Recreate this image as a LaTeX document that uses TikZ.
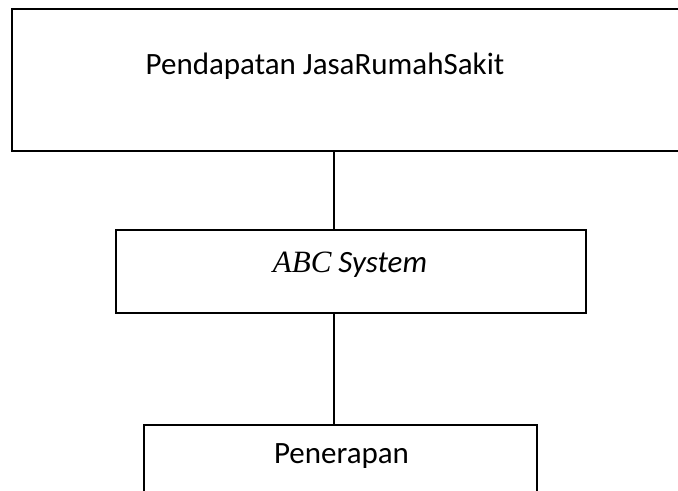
\documentclass[tikz,border=0pt]{standalone}
\usepackage{fontspec}
\setmainfont{Carlito}
\newfontfamily\timesfont{Liberation Serif}
\usetikzlibrary{positioning}

\tikzset{
    box/.style={draw,line width=0.9pt,inner sep=0pt},
    boxtext/.style={inner sep=0pt,anchor=base,font=\fontsize{15.5}{18}\selectfont},
    conn/.style={line width=0.9pt}
}

\begin{document}
\begin{tikzpicture}[x=0.5pt,y=-0.5pt]
        %fix the page size, the top and bottom boxes run off it
        \useasboundingbox (0,0) rectangle (678,491);
        \clip (0,0) rectangle (678,491);

        %draw the three boxes
        \node[box,minimum width=344pt,minimum height=71pt] (pendapatan) at (356,80) {};
        \node[box,minimum width=235pt,minimum height=41.5pt] (abc) at (351,271.5) {};
        \node[box,minimum width=196.5pt,minimum height=47.5pt] (penerapan) at (340.5,472.5) {};

        %texts of the boxes
        \node[boxtext] (pendapatantext) at (325,75) {Pendapatan JasaRumahSakit};
        \node[boxtext] (abctext) at (350,272) {\textit{{\timesfont ABC} System}};
        \node[boxtext] (penerapantext) at (341.5,463) {Penerapan};

        %vertical connectors between the boxes
        \coordinate (spine) at (334,0);
        \draw[conn] (pendapatan.south -| spine) -- (abc.north -| spine);
        \draw[conn] (abc.south -| spine) -- (penerapan.north -| spine);
    \end{tikzpicture}
\end{document}
